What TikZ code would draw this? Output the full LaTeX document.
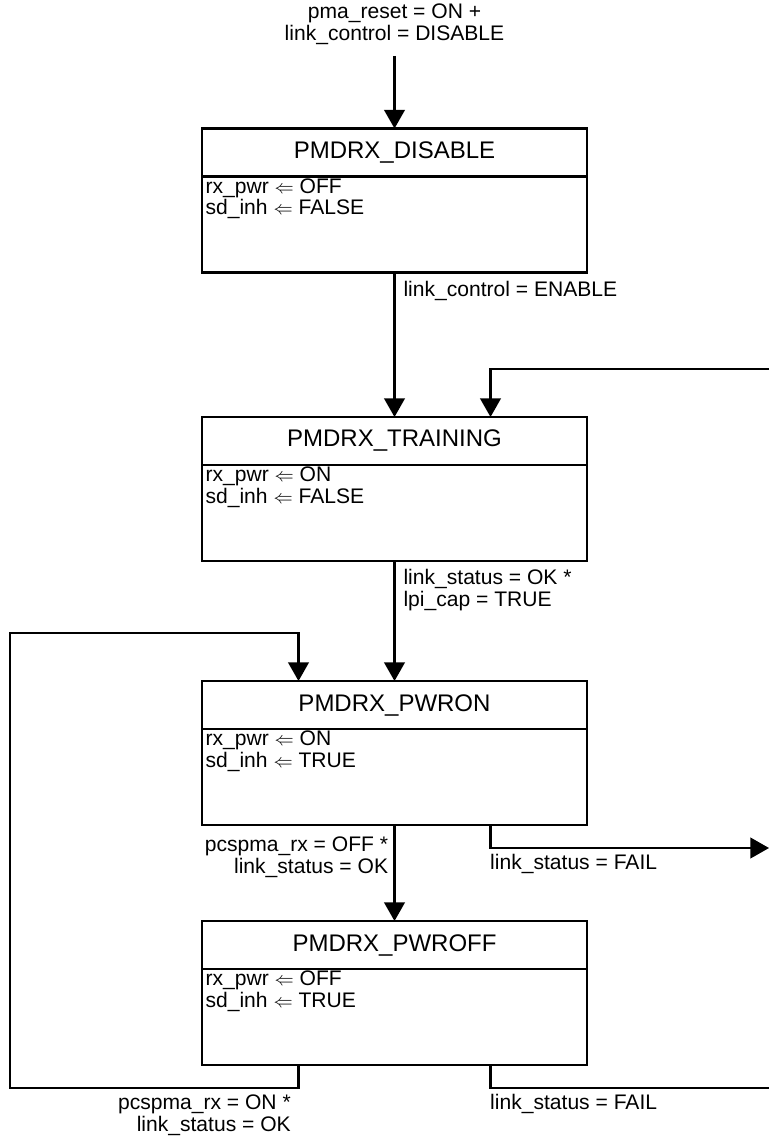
\documentclass[tikz,border=0pt]{standalone}
\usepackage{fontspec}
\setmainfont{Liberation Sans}
\usetikzlibrary{arrows.meta,positioning}
\tikzset{>/.tip={Triangle[width=15.5pt,length=14pt]}}
\tikzset{
  state/.style={draw, line width=1.6pt, outer sep=0pt, minimum width=288.75pt,
    minimum height=36pt, font=\fontsize{18}{20}\selectfont},
  actbox/.style={draw, line width=1.6pt, outer sep=0pt, minimum width=288.75pt,
    minimum height=72pt},
  acts/.style={anchor=north west, align=left, inner xsep=2.5pt, inner ysep=1.5pt,
    font=\fontsize{15.8}{16}\selectfont},
  cond/.style={align=left, inner sep=2pt, font=\fontsize{15.8}{16.5}\selectfont},
  flow/.style={->, line width=1.6pt},
}
\newcommand{\assignto}{$\mathrel{\Leftarrow}$}

\begin{document}
\begin{tikzpicture}[x=0.75pt,y=-0.75pt]
\useasboundingbox (0,0) rectangle (769,1141);

\node[state] (disable) at (394.5,152.5) {PMDRX\_DISABLE};
\node[actbox, below=0pt of disable] (disable-act) {};
\node[acts] (disable-txt) at (disable-act.north west)
     {rx\_pwr \assignto{} OFF\\sd\_inh \assignto{} FALSE};

\node[state] (training) at (394.5,441) {PMDRX\_TRAINING};
\node[actbox, below=0pt of training] (training-act) {};
\node[acts] (training-txt) at (training-act.north west)
     {rx\_pwr \assignto{} ON\\sd\_inh \assignto{} FALSE};

\node[state] (pwron) at (394.5,705) {PMDRX\_PWRON};
\node[actbox, below=0pt of pwron] (pwron-act) {};
\node[acts] (pwron-txt) at (pwron-act.north west)
     {rx\_pwr \assignto{} ON\\sd\_inh \assignto{} TRUE};

\node[state] (pwroff) at (394.5,945) {PMDRX\_PWROFF};
\node[actbox, below=0pt of pwroff] (pwroff-act) {};
\node[acts] (pwroff-txt) at (pwroff-act.north west)
     {rx\_pwr \assignto{} OFF\\sd\_inh \assignto{} TRUE};

\coordinate (reset) at (394.5,56);
\coordinate (back-in) at (769,369);
\coordinate (fail-on) at (769,848);
\coordinate (fail-off) at (769,1088);
\coordinate (loop-b) at (10,1088);
\coordinate (loop-t) at (10,633);

\node[cond, align=center] (reset-lbl) at (394.5,24)
     {pma\_reset = ON +\\link\_control = DISABLE};

\draw[flow] (reset) -- (disable);
\draw[flow] (disable-act) -- node[cond, pos=0, anchor=north west, xshift=4pt, yshift=-4pt]
     {link\_control = ENABLE} (training);
\draw[flow] (back-in) -| ([xshift=72pt]training.north);
\draw[flow] (training-act) -- node[cond, pos=0, anchor=north west, xshift=4pt, yshift=-3pt]
     {link\_status = OK *\\lpi\_cap = TRUE} (pwron);
\draw[flow] (pwron-act) -- node[cond, align=right, pos=0, anchor=north east, xshift=-2pt, yshift=-6pt]
     {pcspma\_rx = OFF *\\link\_status = OK} (pwroff);
\draw[flow] ([xshift=72pt]pwron-act.south) |- node[cond, pos=0.5, anchor=north west, xshift=-3pt, yshift=-2pt]
     {link\_status = FAIL} (fail-on);
\draw[line width=1.6pt] ([xshift=72pt]pwroff-act.south) |- node[cond, pos=0.5, anchor=north west, xshift=-3pt, yshift=-2pt]
     {link\_status = FAIL} (fail-off);
\draw[flow] ([xshift=-72pt]pwroff-act.south) |- node[cond, align=right, pos=0.5, anchor=north east, xshift=-3pt, yshift=-2pt]
     {pcspma\_rx = ON *\\link\_status = OK} (loop-b) -- (loop-t) -| ([xshift=-72pt]pwron.north);
\end{tikzpicture}
\end{document}
